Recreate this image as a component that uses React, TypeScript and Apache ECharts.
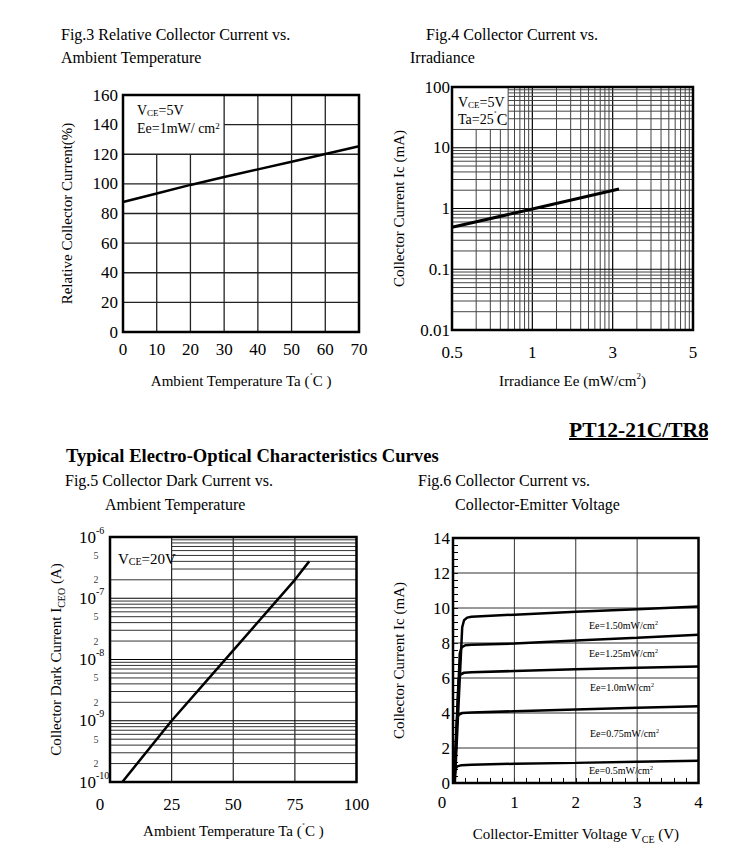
import React, { useEffect, useRef } from 'react';
import * as echarts from 'echarts';

const SERIF = '"Liberation Serif", "Times New Roman", serif';

// ---------- Fig.3 Relative Collector Current vs. Ambient Temperature ----------
const fig3Temp = [0, 10, 20, 30, 40, 50, 60, 70];
const fig3RelCurrent = [87.8, 93.5, 99.3, 104.6, 109.8, 114.9, 120.2, 125.4];
const fig3XTicks = [0, 10, 20, 30, 40, 50, 60, 70];
const fig3YTicks = [0, 20, 40, 60, 80, 100, 120, 140, 160];
const fig3LegendBox = [0, 120, 30, 160]; // x0, y0, x1, y1 (blank legend box)

// ---------- Fig.4 Collector Current vs. Irradiance ----------
// The printed x axis is three equal log cycles labelled 0.5 | 1 | 3 | 5.
// Axis values 1, 10, 100, 1000 stand for those four printed labels.
const fig4XTickLabels = ['0.5', '1', '3', '5'];
const fig4YTickLabels = ['0.01', '0.1', '1', '10', '100'];
const fig4IrrPos = [1, 10, 120];
const fig4Ic = [0.49, 0.98, 2.1];
const fig4LegendBox = [1, 20, 5, 100];

// ---------- Fig.5 Collector Dark Current vs. Ambient Temperature ----------
const fig5Temp = [5, 25, 50, 75, 80.8];
const fig5Dark = [1.0e-10, 1.0e-9, 1.41e-8, 2.0e-7, 4.0e-7];
const fig5XTicks = [0, 25, 50, 75, 100];
const fig5MinorTickValues = [5e-7, 2e-7, 5e-8, 2e-8, 5e-9, 2e-9, 5e-10, 2e-10];
const fig5MinorTickLabels = ['5', '2', '5', '2', '5', '2', '5', '2'];
const fig5LegendBox = [0, 2e-7, 25, 1e-6];

// ---------- Fig.6 Collector Current vs. Collector-Emitter Voltage ----------
const fig6XTicks = [0, 1, 2, 3, 4];
const fig6YTicks = [0, 2, 4, 6, 8, 10, 12, 14];
const fig6Labels = ['Ee=1.50mW/cm', 'Ee=1.25mW/cm', 'Ee=1.0mW/cm', 'Ee=0.75mW/cm', 'Ee=0.5mW/cm'];
const fig6Vce150 = [0.03, 0.15, 0.18, 0.23, 0.3, 1, 2, 3, 4];
const fig6Ic150 = [0, 8.9, 9.3, 9.45, 9.5, 9.62, 9.78, 9.93, 10.08];
const fig6Vce125 = [0.025, 0.11, 0.14, 0.2, 0.3, 1, 2, 3, 4];
const fig6Ic125 = [0, 7.4, 7.75, 7.87, 7.9, 7.97, 8.14, 8.3, 8.47];
const fig6Vce100 = [0.02, 0.09, 0.12, 0.18, 0.3, 1, 2, 3, 4];
const fig6Ic100 = [0, 5.9, 6.2, 6.3, 6.33, 6.4, 6.5, 6.58, 6.66];
const fig6Vce075 = [0.015, 0.065, 0.09, 0.15, 0.3, 1, 2, 3, 4];
const fig6Ic075 = [0, 3.6, 3.9, 4.0, 4.03, 4.1, 4.2, 4.3, 4.39];
const fig6Vce050 = [0.01, 0.04, 0.07, 0.14, 0.3, 1, 2, 3, 4];
const fig6Ic050 = [0, 0.8, 0.95, 1.02, 1.04, 1.1, 1.15, 1.21, 1.27];

const zip = (xs: number[], ys: number[]) => xs.map((x, i) => [x, ys[i]]);

type GL = { v: number; major: boolean };
const linLines = (vals: number[]): GL[] => vals.map((v) => ({ v, major: true }));
// log-paper rulings: decades plus 2..9 within each decade
const logLines = (e0: number, e1: number): GL[] => {
  const out: GL[] = [];
  for (let e = e0; e <= e1; e++) {
    out.push({ v: Math.pow(10, e), major: true });
    if (e < e1) for (let k = 2; k <= 9; k++) out.push({ v: k * Math.pow(10, e), major: false });
  }
  return out;
};

const richSub = {
  s: { fontFamily: SERIF, fontSize: 10, lineHeight: 14, verticalAlign: 'bottom', color: '#000' },
  p: { fontFamily: SERIF, fontSize: 9, lineHeight: 10, verticalAlign: 'top', color: '#000' },
};

const nameStyle = {
  fontFamily: SERIF,
  fontSize: 15,
  color: '#000',
  lineHeight: 20,
  rich: richSub,
};

const labelStyle = (extra: any = {}) => ({
  fontFamily: SERIF,
  fontSize: 17,
  color: '#000',
  ...extra,
});

const hiddenLine = { show: false };
const noTick = { show: false };
const noSplit = { show: false };

const log10r = (v: number) => Math.round(Math.log10(v));

const lineSeries = (gi: number, data: number[][], width: number) => ({
  type: 'line',
  xAxisIndex: gi,
  yAxisIndex: gi,
  data,
  symbol: 'none',
  showSymbol: false,
  smooth: false,
  silent: true,
  lineStyle: { color: '#000', width },
  z: 3,
});

const t = (text: string, x: number, y: number, fontSize: number, extra: any = {}) => ({
  type: 'text',
  x,
  y,
  z: 30,
  silent: true,
  style: {
    text,
    fontFamily: SERIF,
    fontSize,
    fill: '#000',
    align: 'left',
    verticalAlign: 'middle',
    ...extra,
  },
});

const legendRich = (size: number) => ({
  s: { fontFamily: SERIF, fontSize: Math.round(size * 0.66), lineHeight: size - 1, verticalAlign: 'bottom', fill: '#000' },
  p: { fontFamily: SERIF, fontSize: Math.round(size * 0.62), lineHeight: Math.round(size * 0.6), verticalAlign: 'top', fill: '#000' },
  c: { fontFamily: SERIF, fontSize: size + 2, lineHeight: size + 5, fill: '#000' },
});

function buildTexts(): any[] {
  const lr14 = legendRich(14);
  const lr10 = legendRich(10);
  return [
    t('Fig.3 Relative Collector Current vs.', 61, 34, 16),
    t('Ambient Temperature', 61, 57, 16),
    t('Fig.4 Collector Current vs.', 426, 34, 16),
    t('Irradiance', 410, 57, 16),
    t('PT12-21C/TR8', 569, 430, 21.5, { fontWeight: 'bold' }),
    {
      type: 'rect',
      z: 30,
      silent: true,
      shape: { x: 569, y: 438, width: 139, height: 2 },
      style: { fill: '#000' },
    },
    t('Typical Electro-Optical Characteristics Curves', 66, 455, 18.6, { fontWeight: 'bold' }),
    t('Fig.5 Collector Dark Current vs.', 65, 480, 16),
    t('Ambient Temperature', 105, 504, 16),
    t('Fig.6 Collector Current vs.', 418, 480, 16),
    t('Collector-Emitter Voltage', 455, 504, 16),
    // legend boxes
    t('V{s|CE}=5V', 137, 110, 14, { rich: lr14 }),
    t('Ee=1mW/ cm{p|2}', 137, 128, 14, { rich: lr14 }),
    t('V{s|CE}=5V', 458, 102, 14, { rich: lr14 }),
    t('Ta=25{p|˚}{c|C}', 458, 119, 14, { rich: lr14 }),
    t('V{s|CE}=20V', 118, 559, 15, { rich: legendRich(15) }),
    // Fig.6 curve labels
    t(fig6Labels[0] + '{p|2}', 589, 625, 10, { rich: lr10 }),
    t(fig6Labels[1] + '{p|2}', 589, 653, 10, { rich: lr10 }),
    t(fig6Labels[2] + '{p|2}', 590, 687, 10, { rich: lr10 }),
    t(fig6Labels[3] + '{p|2}', 590, 733, 10, { rich: lr10 }),
    t(fig6Labels[4] + '{p|2}', 589, 770, 10, { rich: lr10 }),
  ];
}

const GRIDS = [
  { left: 123, top: 95, width: 236, height: 237 },
  { left: 452, top: 87, width: 241, height: 243 },
  { left: 110, top: 537, width: 246.5, height: 245 },
  { left: 453, top: 538, width: 245.5, height: 245 },
];

const RULINGS = [
  {
    xr: [0, 70], yr: [0, 160], xl: linLines(fig3XTicks), yl: linLines(fig3YTicks), box: fig3LegendBox,
    major: { c: '#222', w: 1.3 }, minor: { c: '#222', w: 1.3 }, vMajor: { c: '#222', w: 1.3 },
  },
  {
    xr: [1, 1000], yr: [0.01, 100], xl: logLines(0, 3), yl: logLines(-2, 2), box: fig4LegendBox,
    major: { c: '#000', w: 1.2 }, minor: { c: '#444', w: 1 }, vMajor: { c: '#000', w: 1.2 },
  },
  {
    xr: [0, 100], yr: [1e-10, 1e-6], xl: linLines(fig5XTicks), yl: logLines(-10, -6), box: fig5LegendBox,
    major: { c: '#000', w: 1.2 }, minor: { c: '#333', w: 1 }, vMajor: { c: '#222', w: 1.2 },
  },
  {
    xr: [0, 4], yr: [0, 14], xl: linLines(fig6XTicks), yl: linLines(fig6YTicks), box: null as number[] | null,
    major: { c: '#333', w: 1 }, minor: { c: '#333', w: 1 }, vMajor: { c: '#333', w: 1 },
  },
];

function buildOption(): any {
  return {
    animation: false,
    backgroundColor: '#fff',
    grid: GRIDS.map((g) => ({ show: false, containLabel: false, ...g })),
    xAxis: [
      {
        gridIndex: 0,
        type: 'value',
        min: 0,
        max: 70,
        interval: 10,
        axisLine: hiddenLine,
        axisTick: noTick,
        axisLabel: labelStyle({ margin: 9 }),
        splitLine: noSplit,
        name: 'Ambient Temperature Ta ({p|˚}C )',
        nameLocation: 'middle',
        nameGap: 39,
        nameTextStyle: nameStyle,
      },
      {
        gridIndex: 1,
        type: 'log',
        logBase: 10,
        min: 1,
        max: 1000,
        axisLine: hiddenLine,
        axisTick: noTick,
        axisLabel: labelStyle({ margin: 14, formatter: (v: number) => fig4XTickLabels[log10r(v)] }),
        splitLine: noSplit,
        name: 'Irradiance Ee (mW/cm{p|2})',
        nameLocation: 'middle',
        nameGap: 41,
        nameTextStyle: nameStyle,
      },
      {
        gridIndex: 2,
        type: 'value',
        min: 0,
        max: 100,
        interval: 25,
        axisLine: hiddenLine,
        axisTick: noTick,
        axisLabel: labelStyle({
          margin: 14,
          formatter: (v: number) => (v === 0 ? '{z|0}' : String(v)),
          rich: { z: { fontFamily: SERIF, fontSize: 17, color: '#000', padding: [0, 20, 0, 0] } },
        }),
        splitLine: noSplit,
        name: 'Ambient Temperature Ta ({p|˚}C )',
        nameLocation: 'middle',
        nameGap: 39,
        nameTextStyle: nameStyle,
      },
      {
        gridIndex: 3,
        type: 'value',
        min: 0,
        max: 4,
        interval: 1,
        axisLine: hiddenLine,
        axisTick: { show: true, inside: true, length: 5, lineStyle: { color: '#000', width: 1 } },
        minorTick: { show: true, splitNumber: 5, length: 5, lineStyle: { color: '#000', width: 1 } },
        axisLabel: labelStyle({
          margin: 11,
          formatter: (v: number) => (v === 0 ? '{z|0}' : String(v)),
          rich: { z: { fontFamily: SERIF, fontSize: 17, color: '#000', padding: [0, 22, 0, 0] } },
        }),
        splitLine: noSplit,
        name: 'Collector-Emitter Voltage V{s|CE} (V)',
        nameLocation: 'middle',
        nameGap: 41,
        nameTextStyle: nameStyle,
      },
    ],
    yAxis: [
      {
        gridIndex: 0,
        type: 'value',
        min: 0,
        max: 160,
        interval: 20,
        axisLine: hiddenLine,
        axisTick: noTick,
        axisLabel: labelStyle({ margin: 5 }),
        splitLine: noSplit,
        name: 'Relative Collector Current(%)',
        nameLocation: 'middle',
        nameGap: 46,
        nameTextStyle: nameStyle,
      },
      {
        gridIndex: 1,
        type: 'log',
        logBase: 10,
        min: 0.01,
        max: 100,
        axisLine: hiddenLine,
        axisTick: noTick,
        axisLabel: labelStyle({ margin: 2, formatter: (v: number) => fig4YTickLabels[log10r(v) + 2] }),
        splitLine: noSplit,
        name: 'Collector Current Ic (mA)',
        nameLocation: 'middle',
        nameGap: 43,
        nameTextStyle: nameStyle,
      },
      {
        gridIndex: 2,
        type: 'log',
        logBase: 10,
        min: 1e-10,
        max: 1e-6,
        axisLine: hiddenLine,
        axisTick: noTick,
        axisLabel: {
          margin: 31,
          align: 'left',
          formatter: (v: number) => `{b|10}{e|${log10r(v)}}`,
          rich: {
            b: { fontFamily: SERIF, fontSize: 17, lineHeight: 24, color: '#000' },
            e: { fontFamily: SERIF, fontSize: 10, lineHeight: 11, verticalAlign: 'top', color: '#000' },
          },
        },
        splitLine: noSplit,
        name: 'Collector Dark Current I{s|CEO} (A)',
        nameLocation: 'middle',
        nameGap: 44,
        nameTextStyle: nameStyle,
      },
      {
        gridIndex: 3,
        type: 'value',
        min: 0,
        max: 14,
        interval: 2,
        axisLine: hiddenLine,
        axisTick: { show: true, inside: true, length: 5, lineStyle: { color: '#000', width: 1 } },
        minorTick: { show: true, splitNumber: 5, length: 5, lineStyle: { color: '#000', width: 1 } },
        axisLabel: labelStyle({ margin: 3 }),
        splitLine: noSplit,
        name: 'Collector Current Ic (mA)',
        nameLocation: 'middle',
        nameGap: 44,
        nameTextStyle: nameStyle,
      },
    ],
    series: [
      lineSeries(0, zip(fig3Temp, fig3RelCurrent), 2.5),
      lineSeries(1, zip(fig4IrrPos, fig4Ic), 3),
      lineSeries(2, zip(fig5Temp, fig5Dark), 2.5),
      {
        type: 'scatter',
        xAxisIndex: 2,
        yAxisIndex: 2,
        silent: true,
        clip: false,
        symbolSize: 1,
        itemStyle: { color: 'transparent' },
        data: fig5MinorTickValues.map((v) => [0, v]),
        label: {
          show: true,
          position: 'left',
          distance: 11,
          fontFamily: SERIF,
          fontSize: 10,
          color: '#000',
          formatter: (p: any) => fig5MinorTickLabels[p.dataIndex],
        },
        z: 3,
      },
      lineSeries(3, zip(fig6Vce150, fig6Ic150), 2.5),
      lineSeries(3, zip(fig6Vce125, fig6Ic125), 2.5),
      lineSeries(3, zip(fig6Vce100, fig6Ic100), 2.5),
      lineSeries(3, zip(fig6Vce075, fig6Ic075), 2.5),
      lineSeries(3, zip(fig6Vce050, fig6Ic050), 2.5),
    ],
  };
}

const strictlyInside = (v: number, a: number, b: number) => {
  const eps = Math.abs(b - a) * 1e-6;
  return v > a + eps && v < b - eps;
};

function buildRulings(chart: any): any[] {
  const out: any[] = [];
  RULINGS.forEach((r, gi) => {
    const P = (x: number, y: number) => chart.convertToPixel({ gridIndex: gi }, [x, y]) as number[];
    const tl = P(r.xr[0], r.yr[1]);
    const br = P(r.xr[1], r.yr[0]);
    if (!tl || !br) return;
    const box = r.box;
    // vertical rulings
    r.xl.forEach((g) => {
      const p = P(g.v, r.yr[0]);
      if (!p || !isFinite(p[0])) return;
      let yTop = tl[1];
      if (box && strictlyInside(g.v, box[0], box[2])) yTop = P(g.v, box[1])[1];
      const st = g.major ? r.vMajor : r.minor;
      out.push({
        type: 'line',
        z: 1,
        silent: true,
        shape: { x1: p[0], y1: yTop, x2: p[0], y2: br[1] },
        style: { stroke: st.c, lineWidth: st.w },
      });
    });
    // horizontal rulings
    r.yl.forEach((g) => {
      const p = P(r.xr[0], g.v);
      if (!p || !isFinite(p[1])) return;
      let xStart = tl[0];
      if (box && strictlyInside(g.v, box[1], box[3])) xStart = P(box[2], g.v)[0];
      const st = g.major ? r.major : r.minor;
      out.push({
        type: 'line',
        z: 1,
        silent: true,
        shape: { x1: xStart, y1: p[1], x2: br[0], y2: p[1] },
        style: { stroke: st.c, lineWidth: st.w },
      });
    });
  });
  return out;
}

export default function App() {
  const ref = useRef<HTMLDivElement>(null);
  useEffect(() => {
    if (!ref.current) return;
    const chart = echarts.init(ref.current, null, { renderer: 'svg' });
    chart.setOption(buildOption());
    const frames: any[] = GRIDS.map((g) => ({
      type: 'rect',
      z: 16,
      silent: true,
      shape: { x: g.left, y: g.top, width: g.width, height: g.height },
      style: { fill: 'none', stroke: '#000', lineWidth: 2.5 },
    }));
    chart.setOption({ graphic: [...buildRulings(chart), ...frames, ...buildTexts()] });
    return () => chart.dispose();
  }, []);
  return (
    <div
      ref={ref}
      style={{ position: 'absolute', left: 0, top: 0, width: 750, height: 859, background: '#fff' }}
    />
  );
}
